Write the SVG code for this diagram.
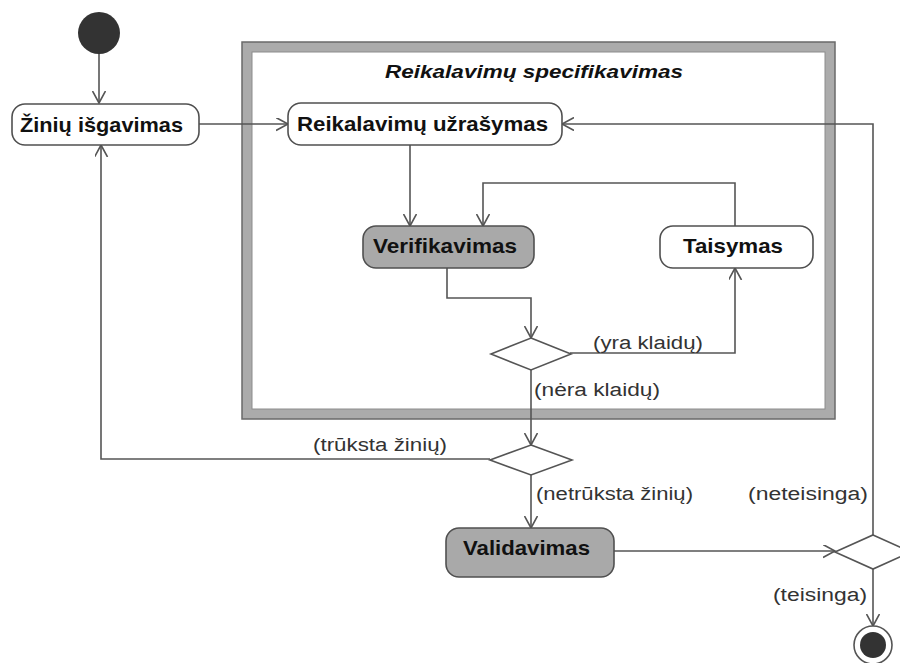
<svg xmlns="http://www.w3.org/2000/svg" width="900" height="663" viewBox="0 0 900 663">
  <defs>
    <marker id="open-arrow" markerUnits="userSpaceOnUse" markerWidth="14" markerHeight="14" refX="12" refY="6.5" orient="auto">
      <path d="M0,0 L12,6.5 L0,13" fill="none" stroke="#555" stroke-width="1.6"/>
    </marker>
  </defs>
  <style>
    .bg { fill: #ffffff; }
    .node { stroke: #505050; stroke-width: 1.6; }
    .plain { fill: #ffffff; }
    .shaded { fill: #a9a9a9; }
    .name { font-family: "Liberation Sans", Arial, sans-serif; font-weight: bold; font-size: 21px; fill: #111; }
    .title { font-family: "Liberation Sans", Arial, sans-serif; font-weight: bold; font-style: italic; font-size: 19px; fill: #111; }
    .guard { font-family: "Liberation Sans", Arial, sans-serif; font-size: 18px; fill: #333; }
    .flow { fill: none; stroke: #555; stroke-width: 1.6; marker-end: url(#open-arrow); }
    .decision { fill: #ffffff; stroke: #555; stroke-width: 1.6; }
  </style>

  <rect class="bg" x="0" y="0" width="900" height="663"/>

  <!-- composite activity frame -->
  <g id="frame-specifikavimas">
    <rect x="247" y="47" width="583" height="367" fill="#ffffff" stroke="#ababab" stroke-width="10"/>
    <rect x="242" y="42" width="593" height="377" fill="none" stroke="#6a6a6a" stroke-width="1.5"/>
    <rect x="252" y="52" width="573" height="357" fill="none" stroke="#8c8c8c" stroke-width="1"/>
    <text class="title" x="534" y="78" text-anchor="middle" textLength="298" lengthAdjust="spacingAndGlyphs">Reikalavimų specifikavimas</text>
  </g>

  <!-- connectors -->
  <g id="connectors">
    <path class="flow" d="M99,54 L99,103"/>
    <path class="flow" d="M199,124 L288,124"/>
    <path class="flow" d="M410,145 L410,226"/>
    <path class="flow" d="M735,226 L735,183 L483,183 L483,226"/>
    <path class="flow" d="M447,268 L447,298 L531,298 L531,338"/>
    <path class="flow" d="M570,353 L735,353 L735,268"/>
    <path class="flow" d="M531,370 L531,445"/>
    <path class="flow" d="M490,459 L101,459 L101,145"/>
    <path class="flow" d="M531,475 L531,528"/>
    <path class="flow" d="M614,551 L835,551"/>
    <path class="flow" d="M873,535 L873,124 L562,124"/>
    <path class="flow" d="M873,569 L873,626"/>

    <text class="guard" x="593" y="349" textLength="110" lengthAdjust="spacingAndGlyphs">(yra klaidų)</text>
    <text class="guard" x="534" y="396" textLength="126" lengthAdjust="spacingAndGlyphs">(nėra klaidų)</text>
    <text class="guard" x="313" y="451" textLength="134" lengthAdjust="spacingAndGlyphs">(trūksta žinių)</text>
    <text class="guard" x="536" y="500" textLength="157" lengthAdjust="spacingAndGlyphs">(netrūksta žinių)</text>
    <text class="guard" x="748" y="500" textLength="120" lengthAdjust="spacingAndGlyphs">(neteisinga)</text>
    <text class="guard" x="773" y="601" textLength="94" lengthAdjust="spacingAndGlyphs">(teisinga)</text>
  </g>

  <!-- initial node -->
  <g id="start">
    <circle cx="99" cy="33" r="21" fill="#333333"/>
  </g>

  <g id="ziniu-isgavimas">
    <rect class="node plain" x="12" y="104" width="187" height="41" rx="13"/>
    <text class="name" x="20" y="132" textLength="163" lengthAdjust="spacingAndGlyphs">Žinių išgavimas</text>
  </g>

  <g id="reikalavimu-uzrasymas">
    <rect class="node plain" x="288" y="103" width="274" height="42" rx="13"/>
    <text class="name" x="297" y="131" textLength="251" lengthAdjust="spacingAndGlyphs">Reikalavimų užrašymas</text>
  </g>

  <g id="verifikavimas">
    <rect class="node shaded" x="363" y="226" width="171" height="42" rx="13"/>
    <text class="name" x="373" y="253" textLength="144" lengthAdjust="spacingAndGlyphs">Verifikavimas</text>
  </g>

  <g id="taisymas">
    <rect class="node plain" x="660" y="226" width="153" height="42" rx="13"/>
    <text class="name" x="683" y="253" textLength="100" lengthAdjust="spacingAndGlyphs">Taisymas</text>
  </g>

  <g id="decision-klaidos">
    <polygon class="decision" points="531,338 571,354 531,370 491,354"/>
  </g>

  <g id="decision-zinios">
    <polygon class="decision" points="531,445 572,460 531,475 490,460"/>
  </g>

  <g id="validavimas">
    <rect class="node shaded" x="446" y="528" width="168" height="49" rx="13"/>
    <text class="name" x="463" y="555" textLength="127" lengthAdjust="spacingAndGlyphs">Validavimas</text>
  </g>

  <g id="decision-validumas">
    <polygon class="decision" points="873,535 911,552 873,569 835,552"/>
  </g>

  <!-- final node -->
  <g id="end">
    <circle cx="873" cy="645" r="19" fill="#ffffff" stroke="#555" stroke-width="1.6"/>
    <circle cx="873" cy="645" r="13" fill="#333333"/>
  </g>
</svg>
